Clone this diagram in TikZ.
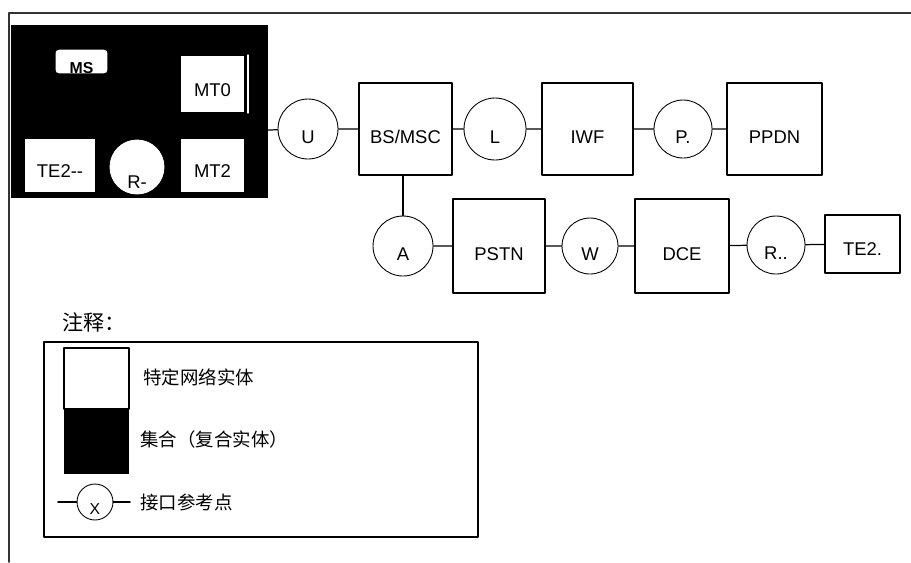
\documentclass[tikz,border=0pt]{standalone}
\usepackage{fontspec}
\setmainfont{Liberation Sans}
\newfontfamily\cjk{Noto Sans CJK SC}
\usetikzlibrary{positioning}
\tikzset{
  every picture/.style={line join=round, line cap=round},
  entity/.style={draw, rectangle, fill=white, inner sep=0pt, line width=0.6pt, text height=16pt, text depth=0pt, font=\fontsize{10.5}{12}\selectfont},
  refpt/.style={draw, circle, fill=white, inner sep=0pt, line width=0.5pt, text height=16pt, text depth=0pt, font=\fontsize{10.5}{12}\selectfont},
  link/.style={line width=0.7pt},
  note/.style={anchor=west, inner sep=0pt, font=\cjk\fontsize{10.5}{12}\selectfont},
}

\begin{document}
\begin{tikzpicture}[x=0.02cm,y=-0.02cm]
\useasboundingbox (0,0) rectangle (911,562);
% frame
\draw[line width=0.9pt, black!80] (9,562)--(9,13)--(911,13);
% mobile station (aggregate)
\fill[black] (11,25) rectangle (268,198);
\coordinate (msedge) at (268,130);
\node[entity, rounded corners=2pt, minimum width=1.06cm, minimum height=0.46cm, text height=14pt, font=\bfseries\fontsize{9}{10}\selectfont] (ms) at (81.5,61.5) {MS};
\node[entity, minimum width=1.3cm, minimum height=1.16cm, text height=14pt] (mt0) at (212.5,84) {MT0};
\draw[white, line width=0.6pt] (248,55)--(248,113);
\node[entity, minimum width=1.44cm, minimum height=1.1cm, text height=14pt] (te2a) at (60,165.5) {TE2{-}{-}};
\node[refpt, minimum size=1.08cm, draw=white, text height=24pt] (ra) at (137,167) {R-};
\node[entity, minimum width=1.3cm, minimum height=1.1cm, text height=14pt] (mt2) at (212.5,165.5) {MT2};
% upper chain
\node[refpt, minimum size=1.2cm] (um) at (308,129) {U};
\node[entity, minimum width=1.86cm, minimum height=1.84cm] (bsc) at (405.5,129) {BS/MSC};
\node[refpt, minimum size=1.24cm] (l) at (495,129) {L};
\node[entity, minimum width=1.82cm, minimum height=1.84cm] (iwf) at (587.5,129) {IWF};
\node[refpt, minimum size=1.16cm] (p) at (683,129) {P.};
\node[entity, minimum width=1.9cm, minimum height=1.84cm] (ppdn) at (774.5,129) {PPDN};
% lower chain
\node[refpt, minimum size=1.2cm] (a) at (403,246) {A};
\node[entity, minimum width=1.84cm, minimum height=1.88cm] (pstn) at (499,246) {PSTN};
\node[refpt, minimum size=1.12cm] (w) at (590,246) {W};
\node[entity, minimum width=1.88cm, minimum height=1.88cm] (dce) at (682,246) {DCE};
\node[refpt, minimum size=1.16cm] (rb) at (776,245) {R..};
\node[entity, minimum width=1.5cm, minimum height=1.16cm, text height=13pt] (te2b) at (862.5,244) {TE2.};
\draw[link] (msedge)--(um) (um)--(bsc) (bsc)--(l) (l)--(iwf) (iwf)--(p) (p)--(ppdn);
\draw[link] (bsc.south-|a)--(a);
\draw[link] (a)--(pstn) (pstn)--(w) (w)--(dce) (dce)--(rb) (rb)--(te2b);
% legend
\node[note, font=\cjk\fontsize{12}{14}\selectfont] (title) at (62,322) {注释：};
\draw[line width=0.8pt] (44,342) rectangle (478,537);
\draw[line width=0.8pt] (64,348) rectangle (129,409);
\fill[black] (64,409) rectangle (129,474);
\node[note] (t1) at (143,377) {特定网络实体};
\node[note] (t2) at (140,439) {集合（复合实体）};
\coordinate (xl) at (58,502);
\coordinate (xr) at (130,502);
\node[refpt, minimum size=0.72cm, text height=14pt, font=\fontsize{9}{10}\selectfont] (x) at (95,502) {X};
\draw[line width=1.1pt] (xl)--(x) (x)--(xr);
\node[note] (t3) at (140,502) {接口参考点};
\end{tikzpicture}
\end{document}
